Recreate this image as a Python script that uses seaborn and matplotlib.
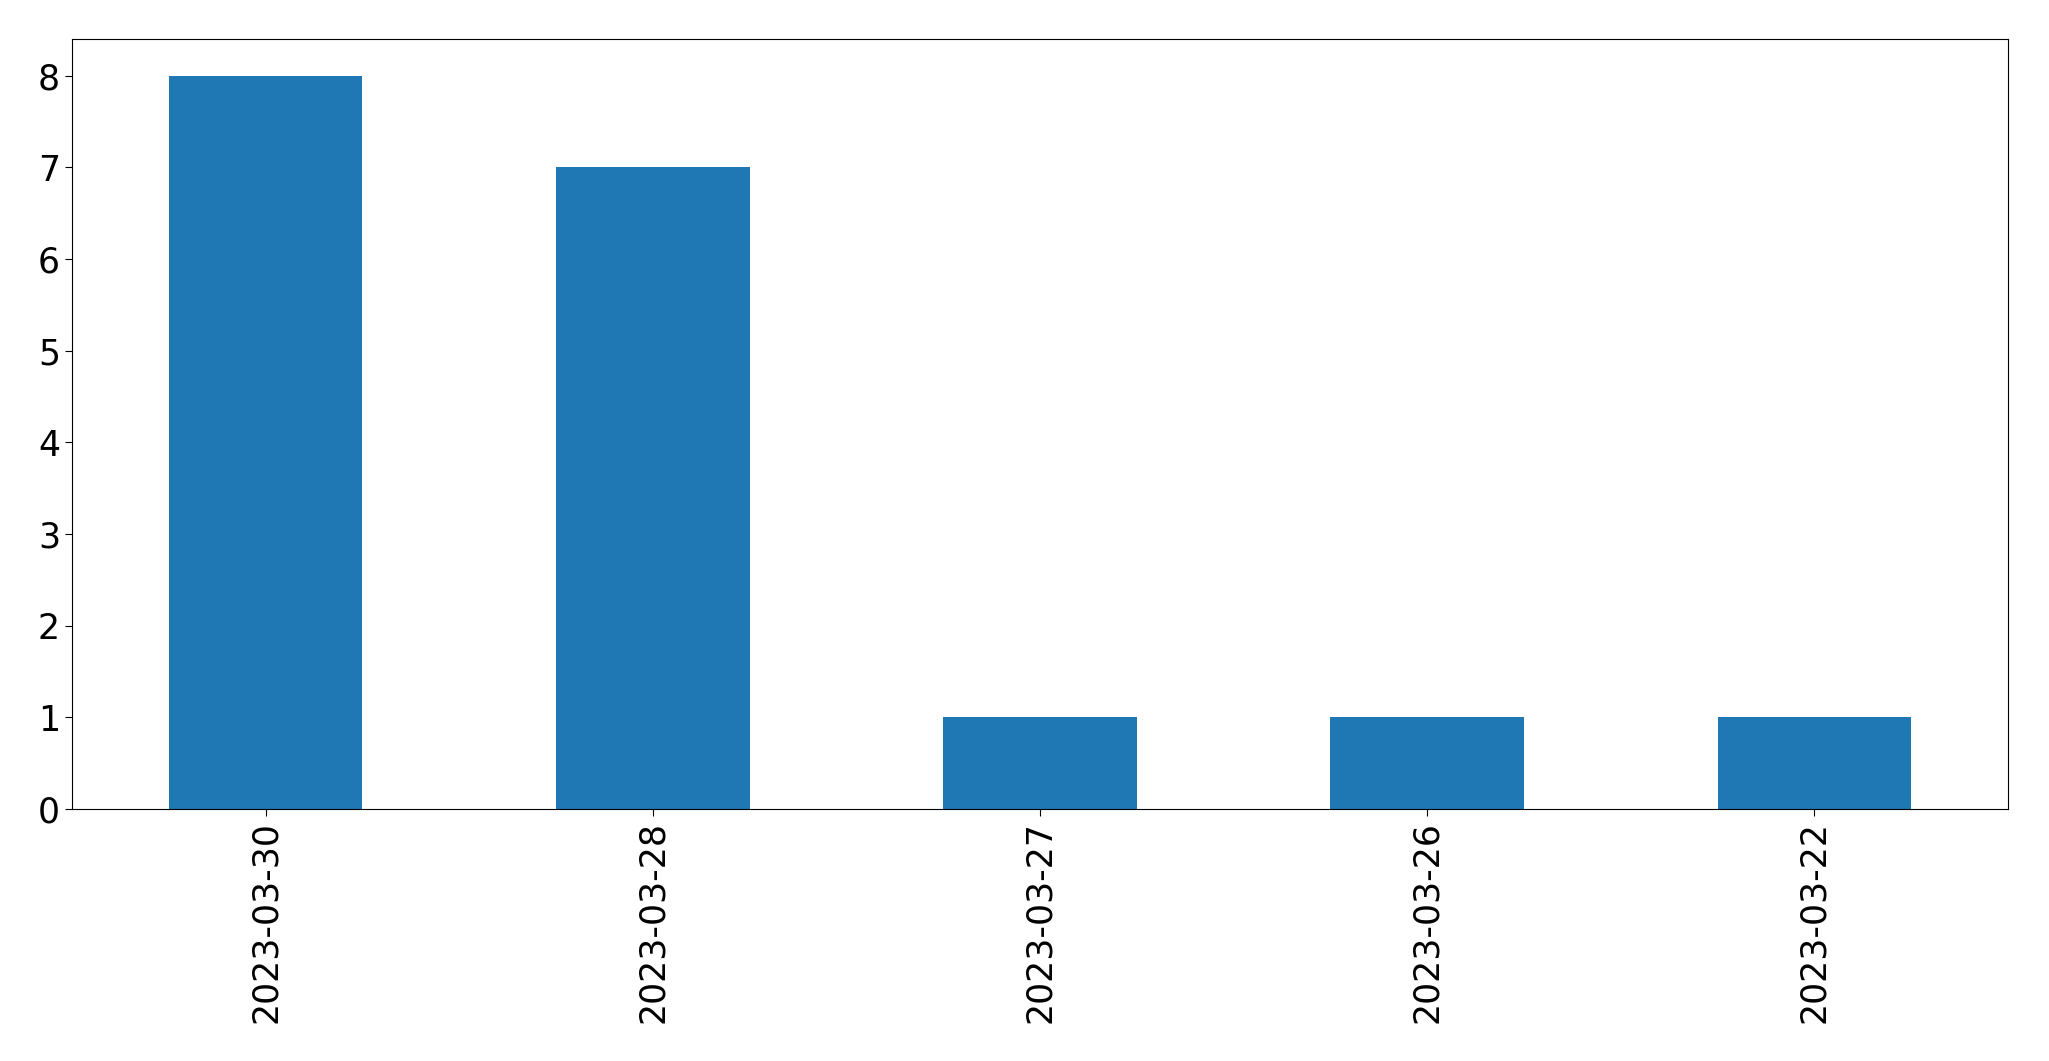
import pandas as pd
import matplotlib
matplotlib.use("Agg")
import matplotlib.pyplot as plt
import seaborn as sns

# counts per day
dates = ["2023-03-30", "2023-03-28", "2023-03-27", "2023-03-26", "2023-03-22"]
counts = [8, 7, 1, 1, 1]

df = pd.DataFrame({"date": dates, "count": counts})

fig, ax = plt.subplots(figsize=(20.49, 10.61), dpi=100)
sns.barplot(data=df, x="date", y="count", order=dates, color="#1f77b4",
            width=0.5, saturation=1, ax=ax)

ax.set_xlim(-0.5, len(dates) - 0.5)
ax.set_ylim(0, max(counts) * 1.05)
ax.set_xlabel("")
ax.set_ylabel("")
ax.tick_params(axis="both", labelsize=25, length=5)
plt.setp(ax.get_xticklabels(), rotation=90)

plt.subplots_adjust(left=0.0351, right=0.980, top=0.9632, bottom=0.2375)
plt.savefig("out.png", dpi=100)
plt.close()
